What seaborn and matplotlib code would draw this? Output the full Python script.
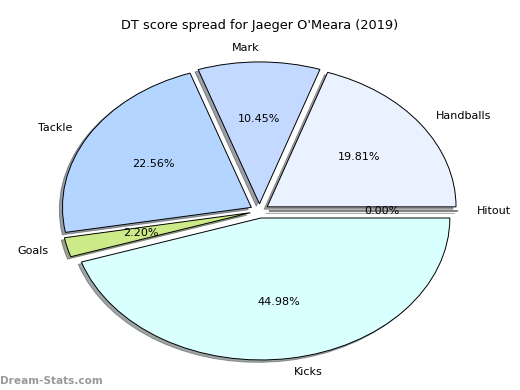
import matplotlib
matplotlib.use("Agg")
import matplotlib.pyplot as plt
import seaborn as sns

sns.set_style("white")
plt.rcParams['font.family'] = ['DejaVu Sans']
plt.rcParams['text.color'] = 'black'

# DT score components, counter-clockwise from 3 o'clock
labels = ["Hitout", "Handballs", "Mark", "Tackle", "Goals", "Kicks"]
shares = [0.00, 19.81, 10.45, 22.56, 2.20, 44.98]
colors = ["#e0e0ff", "#ebf2ff", "#c4d9ff", "#b3d5ff", "#ccea88", "#d9ffff"]
explode = [0.05] * len(labels)

fig = plt.figure(figsize=(5.2, 3.9), dpi=100)
ax = fig.add_axes([0.045, 0.004, 0.908, 0.91])

ax.pie(shares, labels=labels, colors=colors, explode=explode,
       autopct="%1.2f%%", startangle=0,
       shadow={"ox": -0.012, "oy": -0.012},
       wedgeprops={"edgecolor": "black", "linewidth": 0.7},
       textprops={"fontsize": 8, "color": "black"})
ax.set_aspect("auto")
ax.set_xlim(-1.25, 1.25)
ax.set_ylim(-1.25, 1.25)

fig.text(0.5, 1 - 25 / 390, "DT score spread for Jaeger O'Meara (2019)",
         fontsize=9.3, ha="center", va="center", color="black")

fig.text(0.0, 0.01, "Dream-Stats.com", fontsize=7.6, fontweight="bold",
         color="gray", alpha=0.8, ha="left", va="bottom")

fig.savefig("out.png", dpi=100)
